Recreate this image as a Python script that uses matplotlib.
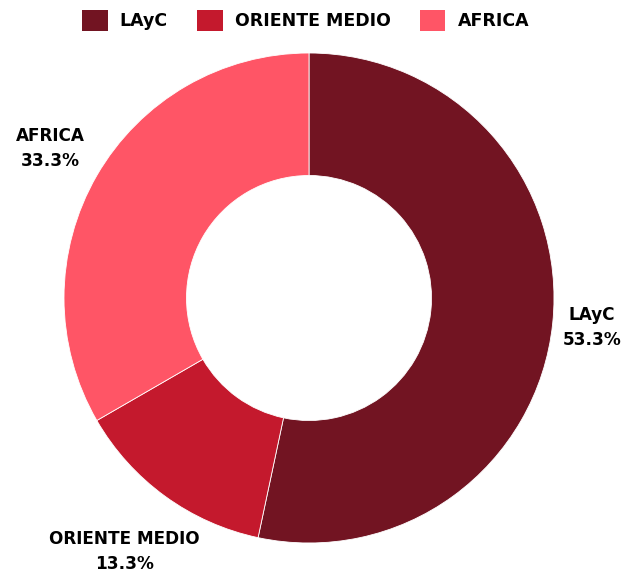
import numpy as np
import matplotlib.pyplot as plt
from matplotlib.patches import Patch

labels = ["LAyC", "ORIENTE MEDIO", "AFRICA"]
values = [8, 2, 5]
colors = ["#721422", "#C4192D", "#FF5566"]
label_dist = [1.16, 1.28, 1.22]

plt.rcParams['font.family'] = ['DejaVu Sans']

fig = plt.figure(figsize=(6.24, 5.72), dpi=100)
ax = fig.add_axes([0, 0, 1, 1])
R = 245.0

wedges, _ = ax.pie(values, colors=colors, startangle=90, counterclock=False,
                   radius=1.0, wedgeprops=dict(width=0.5, edgecolor="white", linewidth=0.6),
                   frame=True)
ax.set_xlim(-309 / R, (624 - 309) / R)
ax.set_ylim(-(572 - 298) / R, 298 / R)
ax.axis("off")

total = sum(values)
for w, lab, v, d in zip(wedges, labels, values, label_dist):
    ang = np.deg2rad((w.theta1 + w.theta2) / 2)
    pct = 100 * v / total
    ax.text(d * np.cos(ang), d * np.sin(ang), f"{lab}\n{pct:.1f}%",
            ha="center", va="center", fontsize=12.2, fontweight="bold",
            color="#000000", linespacing=1.5)

handles = [Patch(facecolor=c, edgecolor="none") for c in colors]
leg = fig.legend(handles, labels, loc="upper center", bbox_to_anchor=(0.49, 1.01),
                 ncol=3, frameon=False, handlelength=1.45, handleheight=1.45,
                 handletextpad=0.7, columnspacing=1.7,
                 prop=dict(weight="bold", size=12.5))

fig.savefig("out.png", dpi=100, facecolor="white")
